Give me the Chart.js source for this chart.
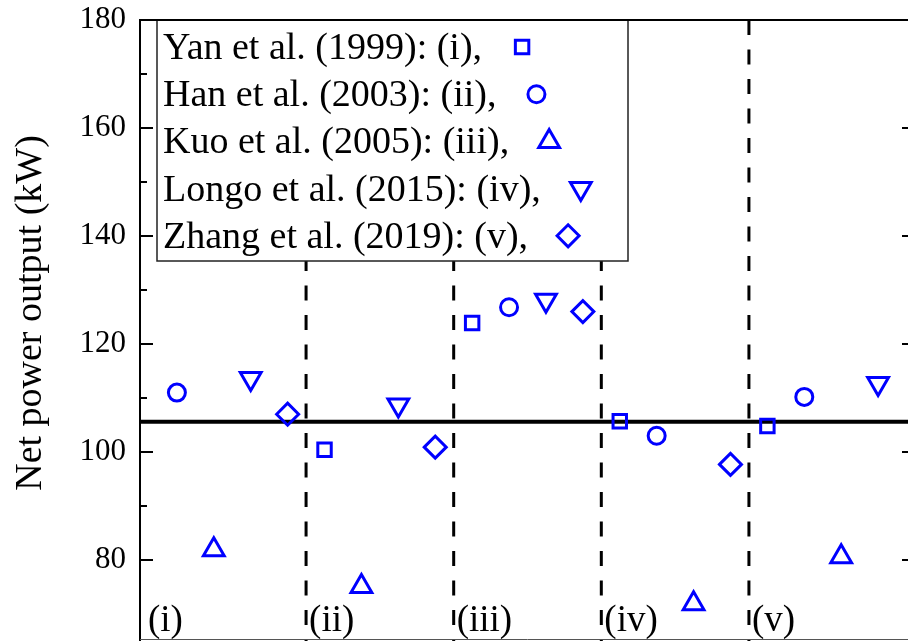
<!DOCTYPE html>
<html>
<head>
<meta charset="utf-8">
<title>Net power output</title>
<script src="https://cdn.jsdelivr.net/npm/chart.js@4.4.1/dist/chart.umd.min.js"></script>
<style>
  html, body { margin: 0; padding: 0; background: #fff; overflow: hidden; }
  canvas { display: block; }
</style>
</head>
<body>
<canvas id="power-chart" width="930" height="642"></canvas>
<script>
// ---- data ----
const studyNames = [
  'Yan et al. (1999): (i),',
  'Han et al. (2003): (ii),',
  'Kuo et al. (2005): (iii),',
  'Longo et al. (2015): (iv),',
  'Zhang et al. (2019): (v),'
];
const groupLabels = ['(i)', '(ii)', '(iii)', '(iv)', '(v)'];
const groupEdges  = [4.5, 8.5, 12.5, 16.5];   // dashed separators (x index)
const refPower    = 105.6;                   // solid reference line
const yMin = 65, yMax = 180;

// x = position index along the axis, y = net power output (kW)
const yanX   = [5, 9, 13, 17];
const yanY   = [100.4, 123.9, 105.7, 104.8];
const hanX   = [1, 10, 14, 18];
const hanY   = [111.0, 126.8, 103.0, 110.2];
const kuoX   = [2, 6, 15, 19];
const kuoY   = [81.9, 75.1, 71.9, 80.6];
const longoX = [3, 7, 11, 20];
const longoY = [113.6, 108.7, 128.1, 112.7];
const zhangX = [4, 8, 12, 16];
const zhangY = [107.0, 100.9, 126.0, 97.7];

const BLUE  = '#0000ff';
const SERIF = '"Liberation Serif", "Times New Roman", serif';

const pts = (xs, ys) => xs.map((x, i) => ({ x, y: ys[i] }));

function markerSet(label, xs, ys, style, radius, rotation = 0) {
  return {
    label, data: pts(xs, ys),
    pointStyle: style, pointRadius: radius, pointRotation: rotation,
    pointBorderColor: BLUE, pointBackgroundColor: 'rgba(0,0,0,0)',
    pointBorderWidth: 3, pointHoverRadius: radius, showLine: false
  };
}

const markers = [
  markerSet(studyNames[0], yanX, yanY, 'rect', 9.5),
  markerSet(studyNames[1], hanX, hanY, 'circle', 8.5),
  markerSet(studyNames[2], kuoX, kuoY, 'triangle', 12),
  markerSet(studyNames[3], longoX, longoY, 'triangle', 12, 180),
  markerSet(studyNames[4], zhangX, zhangY, 'rectRot', 11)
];

const dividers = groupEdges.map(gx => ({
  data: [{ x: gx, y: yMax }, { x: gx, y: yMin }],
  showLine: true, borderColor: '#000', borderWidth: 3, borderDash: [15, 14.5],
  pointRadius: 0, order: 2
}));

const refLine = {
  data: [{ x: 0, y: refPower }, { x: 21, y: refPower }],
  showLine: true, borderColor: '#000', borderWidth: 4, pointRadius: 0, order: 1
};

// legend box, axis frame, inward ticks, group labels, axis title
const decorations = {
  id: 'decorations',
  afterDatasetsDraw(chart) {
    const { ctx, chartArea: a, scales: { x, y } } = chart;
    ctx.save();

    // group labels along the bottom
    ctx.font = `37px ${SERIF}`;
    ctx.fillStyle = '#000';
    ctx.textBaseline = 'alphabetic';
    ctx.textAlign = 'left';
    groupLabels.forEach((lab, i) => {
      const px = i === 0 ? a.left + 8 : x.getPixelForValue(groupEdges[i - 1]) + 3;
      ctx.fillText(lab, px, a.bottom - 10);
    });

    // legend
    const box = { l: 157, t: a.top, r: 628, b: 261 };
    ctx.fillStyle = '#fff';
    ctx.fillRect(box.l, box.t, box.r - box.l, box.b - box.t);
    ctx.strokeStyle = '#222';
    ctx.lineWidth = 1.5;
    ctx.strokeRect(box.l, box.t, box.r - box.l, box.b - box.t);
    ctx.font = `38px ${SERIF}`;
    markers.forEach((ds, i) => {
      const base = 59 + i * 47.2;
      ctx.fillStyle = '#000';
      ctx.fillText(ds.label, 163, base);
      const w = ctx.measureText(ds.label).width;
      ctx.fillStyle = 'rgba(0,0,0,0)';
      ctx.strokeStyle = BLUE;
      ctx.lineWidth = 3;
      Chart.helpers.drawPoint(ctx, {
        pointStyle: ds.pointStyle, radius: ds.pointRadius,
        rotation: ds.pointRotation, borderWidth: 3
      }, 163 + w + 40, base - 12);
    });

    // frame
    ctx.strokeStyle = '#000';
    ctx.lineWidth = 2;
    ctx.beginPath();
    ctx.moveTo(a.left, a.bottom); ctx.lineTo(a.left, a.top);
    ctx.lineTo(a.right, a.top); ctx.lineTo(a.right, a.bottom);
    ctx.stroke();
    ctx.strokeStyle = '#555';
    ctx.lineWidth = 1;
    ctx.beginPath();
    ctx.moveTo(a.left, a.bottom - 1.5); ctx.lineTo(a.right, a.bottom - 1.5);
    ctx.stroke();

    // inward ticks, both sides
    ctx.strokeStyle = '#000';
    ctx.lineWidth = 2;
    y.ticks.forEach(t => {
      const py = Math.round(y.getPixelForValue(t.value));
      const len = t.value % 20 === 0 ? 13 : 7;
      ctx.beginPath();
      ctx.moveTo(a.left, py); ctx.lineTo(a.left + len, py);
      ctx.moveTo(a.right, py); ctx.lineTo(a.right - len, py);
      ctx.stroke();
    });

    // y axis title
    ctx.translate(41, 313);
    ctx.rotate(-Math.PI / 2);
    ctx.textAlign = 'center';
    ctx.fillStyle = '#000';
    ctx.font = `38px ${SERIF}`;
    ctx.fillText('Net power output (kW)', 0, 0);
    ctx.restore();
  }
};

new Chart(document.getElementById('power-chart'), {
  type: 'scatter',
  data: { datasets: [...dividers, refLine, ...markers] },
  options: {
    responsive: false,
    animation: false,
    layout: { autoPadding: false, padding: { top: 20, bottom: 1, left: 0, right: 15 } },
    plugins: { legend: { display: false }, tooltip: { enabled: false } },
    events: [],
    scales: {
      x: { type: 'linear', min: 0, max: 21, display: false },
      y: {
        min: yMin, max: yMax,
        afterFit: s => {
          s.width = 140;
          s.paddingTop = 0;
          s.paddingBottom = 0;
        },
        afterBuildTicks: s => { s.ticks = s.ticks.filter(t => t.value % 10 === 0); },
        grid: { display: false, drawTicks: false },
        border: { display: false },
        ticks: {
          stepSize: 10, autoSkip: false, padding: 14, color: '#000',
          font: { family: SERIF, size: 31 },
          callback: v => (v % 20 === 0 ? v : '')
        }
      }
    }
  },
  plugins: [decorations]
});
</script>
</body>
</html>
